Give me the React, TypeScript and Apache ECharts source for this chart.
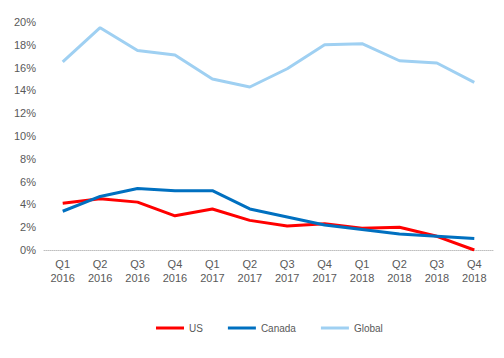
import React, { useEffect, useRef } from "react";
import * as echarts from "echarts";

const categories = ["Q1\n2016", "Q2\n2016", "Q3\n2016", "Q4\n2016", "Q1\n2017", "Q2\n2017", "Q3\n2017", "Q4\n2017", "Q1\n2018", "Q2\n2018", "Q3\n2018", "Q4\n2018"];
const usValues = [4.1, 4.5, 4.2, 3.0, 3.6, 2.6, 2.1, 2.3, 1.9, 2.0, 1.2, 0.0];
const canadaValues = [3.4, 4.7, 5.4, 5.2, 5.2, 3.6, 2.9, 2.2, 1.8, 1.4, 1.2, 1.0];
const globalValues = [16.5, 19.5, 17.5, 17.1, 15.0, 14.3, 15.9, 18.0, 18.1, 16.6, 16.4, 14.7];

const FONT = "'Liberation Sans', Arial, sans-serif";

export default function App() {
  const ref = useRef<HTMLDivElement>(null);
  useEffect(() => {
    if (!ref.current) return;
    const chart = echarts.init(ref.current, null, { renderer: "svg" });
    const mk = (name: string, data: number[], color: string) => ({
      name,
      type: "line",
      data,
      symbol: "none",
      lineStyle: { width: 3, color },
      itemStyle: { color },
    });
    chart.setOption({
      animation: false,
      backgroundColor: "#ffffff",
      grid: { left: 44, right: 11, top: 22, bottom: 108 },
      legend: {
        top: 318,
        left: 151,
        icon: "rect",
        itemWidth: 28,
        itemHeight: 3,
        itemGap: 25,
        textStyle: { color: "#595959", fontSize: 10, fontFamily: FONT },
        data: ["US", "Canada", "Global"],
      },
      xAxis: {
        type: "category",
        data: categories,
        boundaryGap: true,
        axisLine: { show: true, lineStyle: { color: "#bfbfbf", type: "dotted", width: 1 } },
        axisTick: { show: false },
        axisLabel: { color: "#595959", fontSize: 11, fontFamily: FONT, lineHeight: 14, margin: 7, interval: 0 },
      },
      yAxis: {
        type: "value",
        min: 0,
        max: 20,
        interval: 2,
        axisLine: { show: false },
        axisTick: { show: false },
        splitLine: { show: false },
        axisLabel: { color: "#595959", fontSize: 11, fontFamily: FONT, formatter: "{value}%", margin: 8 },
      },
      series: [
        mk("US", usValues, "#ff0000"),
        mk("Canada", canadaValues, "#0070c0"),
        mk("Global", globalValues, "#9fd0f2"),
      ],
    });
    return () => chart.dispose();
  }, []);
  return <div ref={ref} style={{ width: 504, height: 358, position: "absolute", left: 0, top: 0 }} />;
}
